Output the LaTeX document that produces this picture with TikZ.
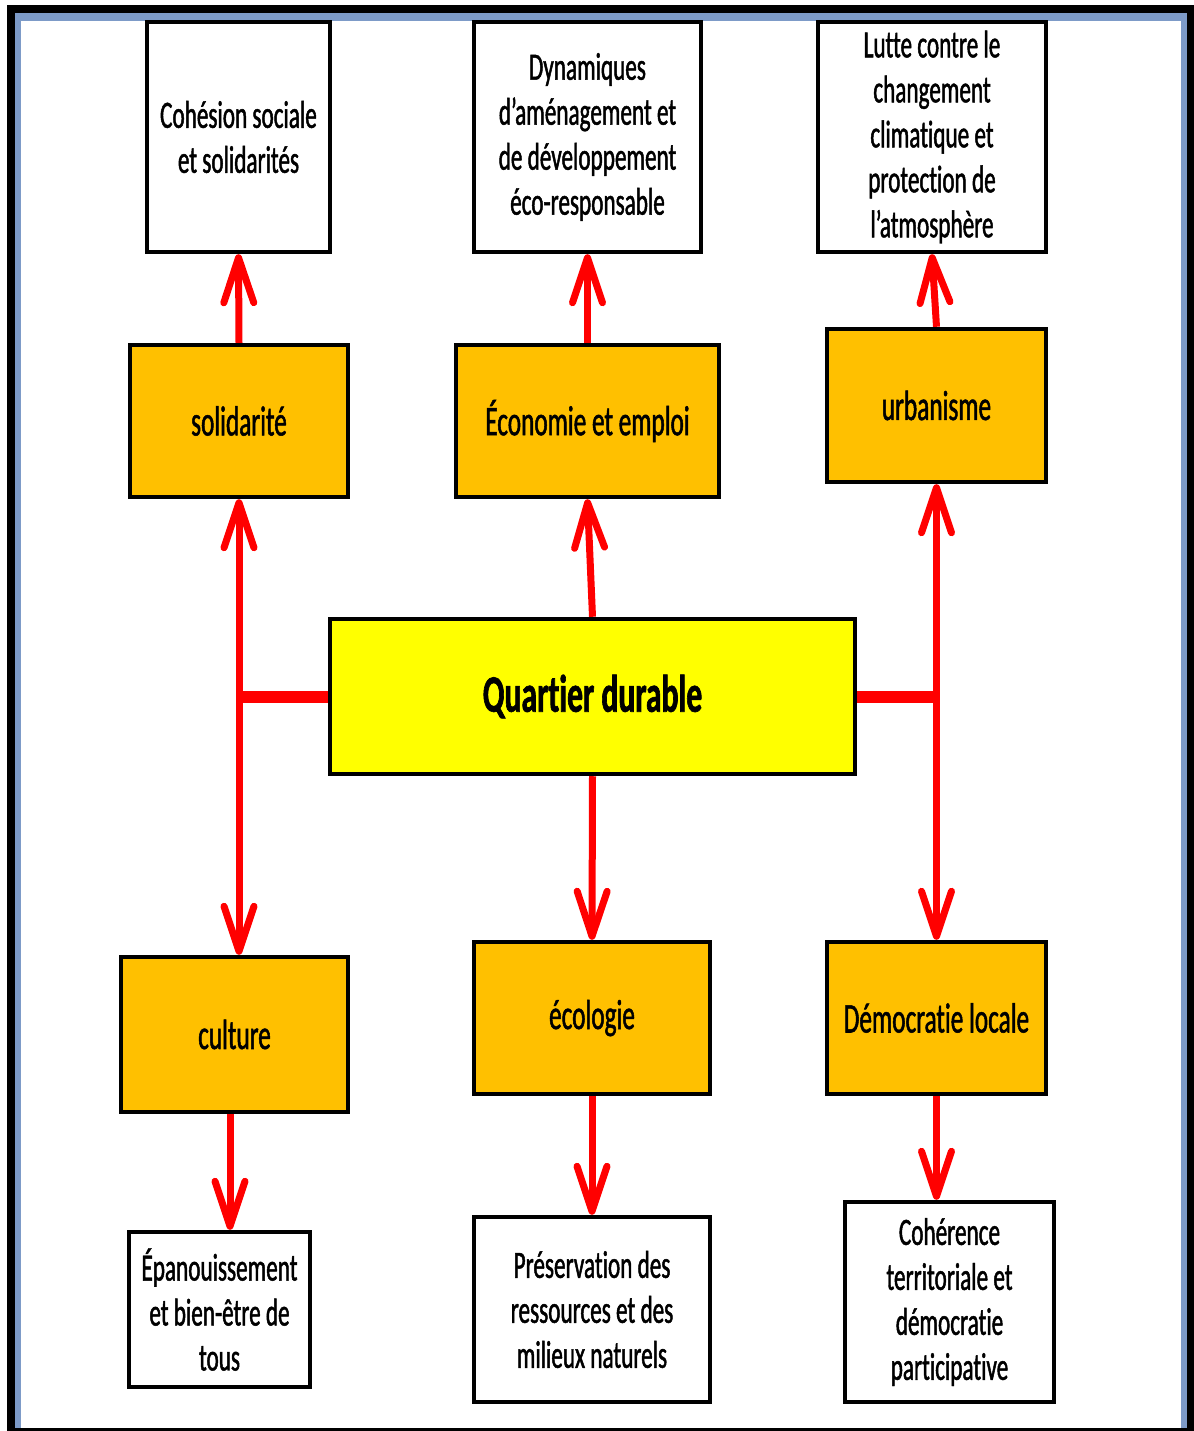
\documentclass[tikz,border=0pt]{standalone}
\usepackage{fontspec}
\setmainfont{Carlito}[FakeStretch=0.6, FakeBold=1.2, Ligatures=NoCommon]
\usepackage{xcolor}
\usetikzlibrary{arrows.meta}

\definecolor{themeorange}{RGB}{255,192,0}
\definecolor{coreyellow}{RGB}{255,255,0}
\definecolor{framedark}{RGB}{0,0,0}
\definecolor{frameblue}{RGB}{125,155,200}

\begin{document}
\begin{tikzpicture}[
  x=0.02cm, y=-0.02cm,
  goalbox/.style={
    rectangle, draw=black, line width=0.09cm, fill=white,
    align=center, inner sep=2pt,
    font=\fontsize{22}{25.6}\selectfont
  },
  themebox/.style={
    rectangle, draw=black, line width=0.09cm, fill=themeorange,
    align=center, inner sep=2pt,
    font=\fontsize{24}{28}\selectfont
  },
  corebox/.style={
    rectangle, draw=black, line width=0.09cm, fill=coreyellow,
    align=center, inner sep=2pt,
    font=\fontsize{30}{34}\selectfont\bfseries
  },
  linkedge/.style={draw=red, line width=0.14cm,
    -{Straight Barb[length=0.9cm, width=0.6cm, round]}},
  bothedge/.style={draw=red, line width=0.14cm,
    {Straight Barb[length=0.9cm, width=0.6cm, round]}-{Straight Barb[length=0.9cm, width=0.6cm, round]}},
  baredge/.style={draw=red, line width=0.24cm},
]

\useasboundingbox (0,0) rectangle (1194,1431);

% ============================================================
% WINDOW FRAME
% ============================================================
\fill[white] (0,0) rectangle (1194,1431);
\fill[framedark] (7,5) rectangle (1194,1431);
\fill[frameblue] (15,13) rectangle (1187,1428);
\fill[white] (21,21) rectangle (1181,1428);

% ============================================================
% CENTRE
% ============================================================
\node[corebox, minimum width=10.5cm, minimum height=3.1cm] (quartier) at (592.5,696.5) {\raisebox{-4pt}{Quartier durable}};

% ============================================================
% THEMES (orange)
% ============================================================
\node[themebox, minimum width=4.36cm, minimum height=3.04cm] (solidarite) at (239,421) {solidarité};
\node[themebox, minimum width=5.26cm, minimum height=3.04cm] (economie) at (587.5,421) {Économie et emploi};
\node[themebox, minimum width=4.38cm, minimum height=3.06cm] (urbanisme) at (936.5,405.5) {urbanisme};
\node[themebox, minimum width=4.54cm, minimum height=3.1cm] (culture) at (234.5,1034.5) {culture};
\node[themebox, minimum width=4.72cm, minimum height=3.04cm] (ecologie) at (592,1018) {écologie};
\node[themebox, minimum width=4.38cm, minimum height=3.04cm] (democratie) at (936.5,1018) {Démocratie locale};

% ============================================================
% GOALS (white)
% ============================================================
\node[goalbox, minimum width=3.66cm, minimum height=4.6cm] (cohesion) at (238.5,137) {Cohésion sociale\\et solidarités};
\node[goalbox, minimum width=4.54cm, minimum height=4.6cm] (dynamiques) at (587.5,137) {Dynamiques\\d’aménagement et\\de développement\\éco-responsable};
\node[goalbox, minimum width=4.56cm, minimum height=4.6cm] (lutte) at (932,137) {Lutte contre le\\changement\\climatique et\\protection de\\l’atmosphère};
\node[goalbox, minimum width=3.62cm, minimum height=3.1cm] (epanouissement) at (219.5,1309.5) {Épanouissement\\et bien-être de\\tous};
\node[goalbox, minimum width=4.72cm, minimum height=3.7cm] (preservation) at (592,1309.5) {Préservation des\\ressources et des\\milieux naturels};
\node[goalbox, minimum width=4.18cm, minimum height=4.0cm] (coherence) at (949.5,1302) {Cohérence\\territoriale et\\démocratie\\participative};

% ============================================================
% EDGES
% ============================================================
% --- themes up to goals ---
\draw[linkedge] (solidarite.north) -- (cohesion.south);
\draw[linkedge] (economie.north) -- (dynamiques.south);
\draw[linkedge] (urbanisme.north) -- (lutte.south);

% --- centre to themes ---
\draw[linkedge] (quartier.north) -- (economie.south);
\draw[linkedge] (quartier.south) -- (ecologie.north);

% --- left branch ---
\coordinate (leftjoin) at (solidarite.south |- quartier.west);
\draw[bothedge] (solidarite.south) -- (solidarite.south |- culture.north);
\draw[baredge] (quartier.west) -- (leftjoin);

% --- right branch ---
\coordinate (rightjoin) at (urbanisme.south |- quartier.east);
\draw[bothedge] (urbanisme.south) -- (urbanisme.south |- democratie.north);
\draw[baredge] (quartier.east) -- (rightjoin);

% --- themes down to goals ---
\draw[linkedge] ([xshift=-0.09cm]culture.south) -- ([xshift=-0.09cm]culture.south |- epanouissement.north);
\draw[linkedge] (ecologie.south) -- (preservation.north);
\draw[linkedge] (democratie.south) -- (democratie.south |- coherence.north);

\end{tikzpicture}
\end{document}
